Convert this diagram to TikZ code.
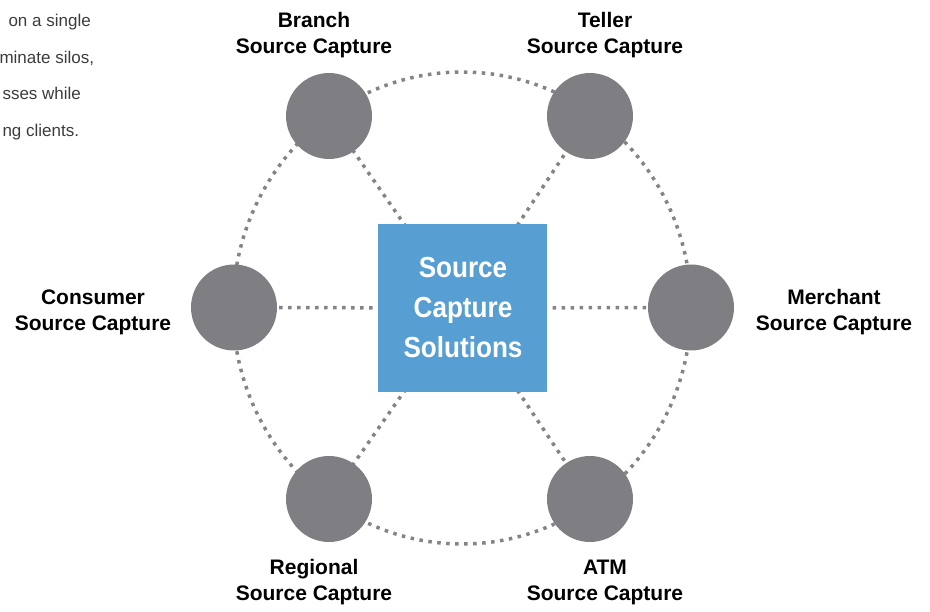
\documentclass[tikz,border=0pt]{standalone}
\usepackage{fontspec}
\setmainfont{Liberation Sans}
\newfontfamily\corefont{Liberation Sans}[FakeStretch=0.9]
\usepackage{tikz}
\usetikzlibrary{positioning}

\definecolor{hubgray}{RGB}{127,126,131}
\definecolor{dotgray}{RGB}{132,132,136}
\definecolor{coreblue}{RGB}{87,159,211}
\definecolor{bodytext}{RGB}{60,60,62}

\pgfdeclarelayer{background}
\pgfsetlayers{background,main}

\tikzset{
    hub/.style={circle, fill=hubgray, minimum size=86pt, inner sep=0pt},
    core/.style={rectangle, fill=coreblue, minimum width=169pt, minimum height=168pt, inner sep=0pt},
    dotline/.style={draw=dotgray, line width=3.5pt, dash pattern=on 3.5pt off 5.5pt},
    lbl/.style={align=center, anchor=base, font=\bfseries\fontsize{21}{26}\selectfont},
    blurb/.style={anchor=base west, text=bodytext, font=\fontsize{17}{20}\selectfont}
}

\begin{document}
\begin{tikzpicture}[x=1pt, y=-1pt]
    \useasboundingbox (0,0) rectangle (930,612);
    \clip (0,0) rectangle (930,612);

    % side text, running off the left edge
    \node[blurb] (blurb1) at (5,26.7) {on a single};
    \node[blurb] (blurb2) at (-4,63.5) {minate silos,};
    \node[blurb] (blurb3) at (-1,100) {sses while};
    \node[blurb] (blurb4) at (-1,136.5) {ng clients.};

    % hub in the middle (base = last line)
    \node[core] (core) at (462.5,308) {};
    \node[align=center, text=white, font=\corefont\bfseries\fontsize{29}{40}\selectfont,
          anchor=base] (coretext) at (463,358) {Source\\Capture\\Solutions};

    % capture points around the hub
    \node[hub] (branch)   at (329,116) {};
    \node[hub] (teller)   at (590,116) {};
    \node[hub] (consumer) at (234,307.5) {};
    \node[hub] (merchant) at (691,307.5) {};
    \node[hub] (regional) at (329,499) {};
    \node[hub] (atm)      at (590,499) {};

    % labels, placed by their second line
    \node[lbl] (branchlbl)   at (314,53.7)  {Branch\\Source Capture};
    \node[lbl] (tellerlbl)   at (605,53.7)  {Teller\\Source Capture};
    \node[lbl] (consumerlbl) at (93,331)    {Consumer\\Source Capture};
    \node[lbl] (merchantlbl) at (834,331)   {Merchant\\Source Capture};
    \node[lbl] (regionallbl) at (314,600.5) {Regional\\Source Capture};
    \node[lbl] (atmlbl)      at (605,600.5) {ATM\\Source Capture};

    % ring and spokes go behind everything
    \begin{pgfonlayer}{background}
        \draw[dotline] (462,308) ellipse [x radius=229pt, y radius=236pt];
        \foreach \n in {branch,teller,consumer,merchant,regional,atm}
            \draw[dotline] (core.center) -- (\n.center);
    \end{pgfonlayer}
\end{tikzpicture}
\end{document}
